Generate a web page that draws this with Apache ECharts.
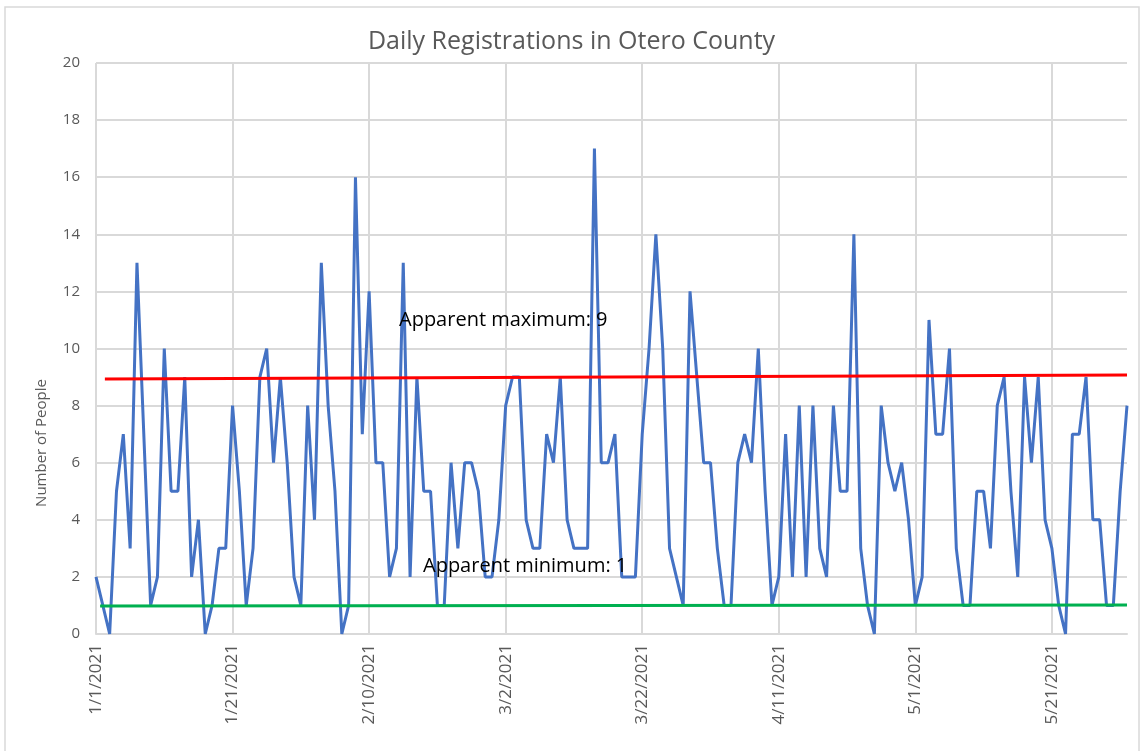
<!DOCTYPE html>
<html>
<head>
<meta charset="utf-8">
<title>Daily Registrations in Otero County</title>
<script src="https://cdn.jsdelivr.net/npm/echarts@6/dist/echarts.min.js"></script>
<style>
  html, body { margin: 0; padding: 0; background: #ffffff; }
  #chart { width: 1143px; height: 751px; }
</style>
</head>
<body>
<div id="chart"></div>
<script>
// Daily registrations, 1 Jan 2021 through 1 Jun 2021
const startDate = new Date(2021, 0, 1);
const registrations = [
  2, 1, 0, 5, 7, 3, 13, 7, 1, 2, 10, 5, 5, 9, 2, 4, 0, 1, 3, 3, 8,
  5, 1, 3, 9, 10, 6, 9, 6, 2, 1, 8, 4, 13, 8, 5, 0, 1, 16, 7, 12,
  6, 6, 2, 3, 13, 2, 9, 5, 5, 1, 1, 6, 3, 6, 6, 5, 2, 2, 4, 8,
  9, 9, 4, 3, 3, 7, 6, 9, 4, 3, 3, 3, 17, 6, 6, 7, 2, 2, 2, 7,
  10, 14, 10, 3, 2, 1, 12, 9, 6, 6, 3, 1, 1, 6, 7, 6, 10, 5, 1, 2,
  7, 2, 8, 2, 8, 3, 2, 8, 5, 5, 14, 3, 1, 0, 8, 6, 5, 6, 4, 1,
  2, 11, 7, 7, 10, 3, 1, 1, 5, 5, 3, 8, 9, 5, 2, 9, 6, 9, 4, 3,
  1, 0, 7, 7, 9, 4, 4, 1, 1, 5, 8
];

// Date labels (M/D/YYYY), one per day
const dateLabels = registrations.map(function (_, i) {
  const d = new Date(startDate.getTime());
  d.setDate(d.getDate() + i);
  return (d.getMonth() + 1) + '/' + d.getDate() + '/' + d.getFullYear();
});

// Hand-drawn guide lines: [day offset, level]
const apparentMax = [[1.3, 8.93], [151, 9.07]];
const apparentMin = [[0.6, 0.98], [151, 1.02]];
const maxLabel = 'Apparent maximum: 9';
const minLabel = 'Apparent minimum: 1';
const yTitle = 'Number of People';

const labelStep = 20;
const gray = '#595959';
const gridGray = '#d9d9d9';
const font = '"Open Sans", "DejaVu Sans", sans-serif';

const chart = echarts.init(document.getElementById('chart'), null, { renderer: 'canvas' });

chart.setOption({
  backgroundColor: '#ffffff',
  animation: false,
  title: {
    text: 'Daily Registrations in Otero County',
    left: 'center',
    top: 24,
    textStyle: { color: gray, fontSize: 25, fontWeight: 'normal', fontFamily: font }
  },
  grid: { left: 96, right: 16, top: 63, bottom: 117, containLabel: false },
  xAxis: [
    {
      type: 'category',
      data: dateLabels,
      boundaryGap: false,
      axisLine: { show: true, lineStyle: { color: gridGray, width: 2 } },
      axisTick: { show: false },
      axisLabel: {
        interval: labelStep - 1,
        rotate: 90,
        color: gray,
        fontSize: 17,
        fontFamily: font,
        margin: 10
      },
      splitLine: {
        show: true,
        interval: labelStep - 1,
        lineStyle: { color: gridGray, width: 2 }
      }
    },
    {
      type: 'value',
      min: 0,
      max: registrations.length - 1,
      show: false,
      splitLine: { show: false }
    }
  ],
  yAxis: {
    type: 'value',
    min: 0,
    max: 20,
    interval: 2,
    axisLine: { show: false },
    axisTick: { show: false },
    axisLabel: { color: gray, fontSize: 15, fontFamily: font, margin: 16 },
    splitLine: { lineStyle: { color: gridGray, width: 2 } }
  },
  series: [
    {
      name: 'Registrations',
      type: 'line',
      data: registrations,
      xAxisIndex: 0,
      symbol: 'none',
      lineStyle: { color: '#4472C4', width: 3 },
      z: 2
    },
    {
      name: 'Apparent maximum',
      type: 'line',
      xAxisIndex: 1,
      data: apparentMax,
      symbol: 'none',
      lineStyle: { color: '#ff0000', width: 3 },
      z: 3
    },
    {
      name: 'Apparent minimum',
      type: 'line',
      xAxisIndex: 1,
      data: apparentMin,
      symbol: 'none',
      lineStyle: { color: '#00b050', width: 3 },
      z: 3
    }
  ],
  graphic: [
    {
      type: 'rect',
      shape: { x: 5, y: 7, width: 1134, height: 760 },
      style: { fill: 'none', stroke: gridGray, lineWidth: 1.5 },
      silent: true,
      z: -1
    },
    {
      type: 'text',
      x: 42,
      y: 443,
      rotation: Math.PI / 2,
      style: {
        text: yTitle,
        fill: gray,
        fontSize: 15,
        fontFamily: font,
        align: 'center',
        verticalAlign: 'middle'
      }
    },
    {
      type: 'text',
      left: 399,
      top: 310,
      z: 10,
      style: { text: maxLabel, fill: '#000000', fontSize: 20, fontFamily: font }
    },
    {
      type: 'text',
      left: 423,
      top: 556,
      z: 10,
      style: { text: minLabel, fill: '#000000', fontSize: 20, fontFamily: font }
    }
  ]
});
</script>
</body>
</html>
